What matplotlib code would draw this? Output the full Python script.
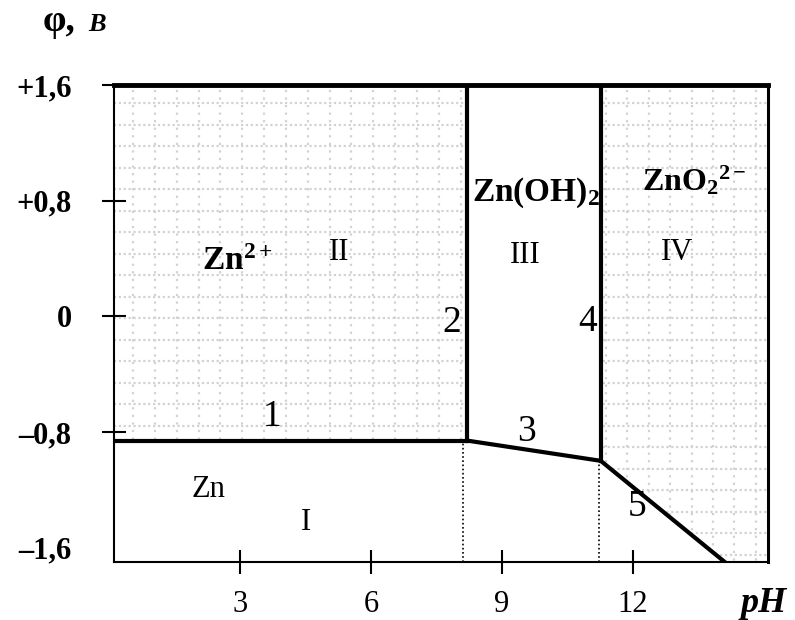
import matplotlib
matplotlib.use('Agg')
import matplotlib.pyplot as plt
import numpy as np
from matplotlib.patches import Polygon

# ---------------- data ----------------
ph_ticks = [3, 6, 9, 12]
e_ticks = [1.6, 0.8, 0, -0.8, -1.6]
e_tick_labels = ['+1,6', '+0,8', '0', '–0,8', '–1,6']

ph_min, ph_max = 0.115, 15.09
e_min, e_max = -1.7, 1.6

# boundary lines (pH, E)
line1_ph = [0.115, 8.2];  line1_e = [-0.86, -0.86]
line2_ph = [8.2, 8.2];    line2_e = [-0.86, 1.6]
line3_ph = [8.2, 11.26];  line3_e = [-0.86, -1.0]
line4_ph = [11.26, 11.26]; line4_e = [-1.0, 1.6]
line5_ph = [11.26, 14.1]; line5_e = [-1.0, -1.7]
dotted_ph = [8.1, 11.22]
dotted_top_e = [-0.86, -1.0]

# ---------------- style ----------------
plt.rcParams['font.family'] = ['Liberation Serif', 'DejaVu Serif']
plt.rcParams['mathtext.fontset'] = 'custom'
plt.rcParams['mathtext.rm'] = 'Liberation Serif'
plt.rcParams['mathtext.bf'] = 'Liberation Serif:bold'
plt.rcParams['mathtext.it'] = 'Liberation Serif:italic'

fig = plt.figure(figsize=(7.95, 6.2), dpi=100)
ax = fig.add_axes([114/795, 58/620, 654/795, 477/620])
ax.set_xlim(ph_min, ph_max)
ax.set_ylim(e_min, e_max)

for s in ['left', 'bottom']:
    ax.spines[s].set_linewidth(1.5)
ax.spines['top'].set_linewidth(3.5)
ax.spines['right'].set_linewidth(2.2)

ax.set_xticks(ph_ticks)
ax.set_xticklabels([str(t) for t in ph_ticks], fontsize=22)
ax.set_yticks(e_ticks)
ax.set_yticklabels(e_tick_labels, fontsize=22, fontweight='bold')
ax.tick_params(axis='both', direction='inout', length=17, width=1.5)
ax.tick_params(axis='x', pad=12)
ax.tick_params(axis='y', pad=22)
ax.yaxis.get_major_ticks()[-1].tick1line.set_visible(False)

# ---------------- shaded (dotted grid) regions ----------------
region2 = [(ph_min, e_max), (line2_ph[0], e_max), (line2_ph[0], line1_e[0]), (ph_min, line1_e[0])]
region4 = [(line4_ph[0], e_max), (ph_max, e_max), (ph_max, e_min), (line5_ph[1], e_min),
           (line5_ph[0], line5_e[0])]

grid_col = '#d2d2d2'
hy = 1.475 - 0.1488 * np.arange(24)
for poly_pts, xs in [(region2, 0.55 + 0.5 * np.arange(16)),
                     (region4, 11.38 + 0.49 * np.arange(8))]:
    poly = Polygon(poly_pts, closed=True, facecolor='none', edgecolor='none', transform=ax.transData)
    ax.add_patch(poly)
    for x in xs:
        ln, = ax.plot([x, x], [e_min - 0.5, e_max + 0.5], color=grid_col, lw=1.6,
                      ls=(0, (1, 2.4)))
        ln.set_clip_path(poly)
    for y in hy:
        ln, = ax.plot([-1, 16], [y, y], color=grid_col, lw=1.6, ls=(0, (1, 1.2)))
        ln.set_clip_path(poly)

# ---------------- boundary lines ----------------
for xs, ys in [(line1_ph, line1_e), (line2_ph, line2_e), (line3_ph, line3_e),
               (line4_ph, line4_e), (line5_ph, line5_e)]:
    ax.plot(xs, ys, color='black', lw=3, solid_capstyle='projecting', zorder=5)

for x, y in zip(dotted_ph, dotted_top_e):
    ax.plot([x, x], [e_min, y], color='black', lw=1.2, ls=(0, (1, 1.5)), zorder=4)

# ---------------- labels ----------------
ax.text(2.12, 0.32, r'$\mathbf{Zn^{2+}}$', fontsize=24, ha='left', va='baseline')
ax.text(8.32, 0.80, r'$\mathbf{Zn(OH)_2}$', fontsize=24, ha='left', va='baseline')
ax.text(12.2, 0.873, r'$\mathbf{ZnO_{2}{}^{2-}}$', fontsize=23, ha='left', va='baseline')

for txt, x, y in [('II', 5.27, 0.444), ('III', 9.53, 0.423), ('IV', 13.0, 0.444),
                  ('I', 4.51, -1.43), ('Zn', 2.29, -1.196)]:
    ax.text(x, y, txt, fontsize=22, ha='center', va='center')

for txt, x, y in [('1', 3.73, -0.698), ('2', 7.85, -0.047), ('3', 9.57, -0.80),
                  ('4', 10.95, -0.04), ('5', 12.09, -1.32)]:
    ax.text(x, y, txt, fontsize=27, ha='center', va='center')

fig.text(43/795, 1 - 31/620, 'φ,', fontsize=27, fontweight='bold', ha='left', va='baseline')
fig.text(88/795, 1 - 31/620, 'B', fontsize=19, fontweight='bold', style='italic',
         ha='left', va='baseline')
fig.text(741/795, 1 - 612/620, 'pH', fontsize=26, fontweight='bold', style='italic',
         ha='left', va='baseline')

fig.savefig('out.png', dpi=100)
